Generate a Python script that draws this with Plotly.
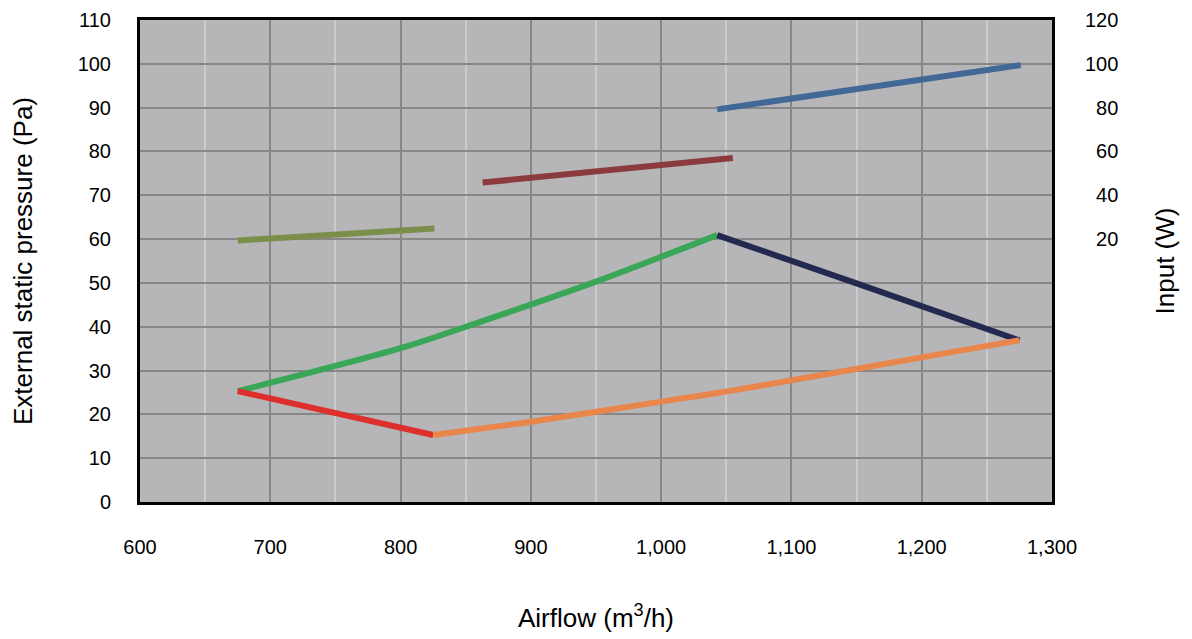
import plotly.graph_objects as go

# pressure curves (left axis, Pa)
green_x = [675, 800, 860, 950, 1043]
green_y = [25.3, 35.1, 41.0, 50.3, 60.9]
red_x = [675, 825]
red_y = [25.3, 15.3]
orange_x = [825, 900, 1000, 1060, 1200, 1275]
orange_y = [15.3, 18.3, 22.9, 25.7, 33.0, 36.9]
navy_x = [1043, 1150, 1275]
navy_y = [60.9, 49.9, 36.9]

# input power curves (right axis, W)
olive_x = [675, 826]
olive_w = [19.4, 24.8]
maroon_x = [863, 1055]
maroon_w = [45.8, 57.0]
blue_x = [1043, 1276]
blue_w = [79.2, 99.4]

right_ticks = [20, 40, 60, 80, 100, 120]
right_text = ["\u200720", "\u200740", "\u200760", "\u200780", "100", "120"]

fig = go.Figure()

def add_line(x, y, color, axis="y"):
    fig.add_trace(go.Scatter(
        x=x, y=y, yaxis=axis, mode="lines",
        line=dict(color=color, width=6, shape="spline", smoothing=0.8),
        showlegend=False, hoverinfo="x+y"
    ))

add_line(olive_x, olive_w, "#7b8f4a", "y2")
add_line(maroon_x, maroon_w, "#8b3b3d", "y2")
add_line(blue_x, blue_w, "#426895", "y2")
add_line(green_x, green_y, "#3aa657")
add_line(navy_x, navy_y, "#23294f")
add_line(red_x, red_y, "#dd302c")
add_line(orange_x, orange_y, "#e8864c")

family = "Liberation Sans, Arial, sans-serif"
tickfont = dict(family=family, size=20, color="black")
titlefont = dict(family=family, size=26, color="black")

# page body has an 8px margin, so the figure is 8px smaller each way
fig.update_layout(
    width=1184, height=631,
    margin=dict(l=132, r=140, t=12, b=137, autoexpand=False),
    paper_bgcolor="white",
    plot_bgcolor="#b6b6b8",
    font=dict(family=family, size=20, color="black"),
    xaxis=dict(
        range=[600, 1300], dtick=100, tick0=600, tickformat=",d",
        showgrid=True, gridcolor="#878787", gridwidth=2,
        minor=dict(dtick=50, showgrid=True, gridcolor="#cbcbcd", gridwidth=2),
        showline=True, linecolor="black", linewidth=3, mirror=True,
        ticks="outside", ticklen=25, tickcolor="rgba(0,0,0,0)",
        zeroline=False, automargin=False, tickfont=tickfont,
        title=dict(text="Airflow (m<sup>3</sup>/h)", font=titlefont, standoff=52),
    ),
    yaxis=dict(
        range=[0, 110], dtick=10,
        showgrid=True, gridcolor="#878787", gridwidth=2,
        showline=True, linecolor="black", linewidth=3, mirror=True,
        ticks="outside", ticklen=22, tickcolor="rgba(0,0,0,0)",
        zeroline=False, automargin=False, tickfont=tickfont,
        title=dict(text="External static pressure (Pa)", font=titlefont, standoff=43),
    ),
    yaxis2=dict(
        overlaying="y", side="right", range=[-100, 120],
        tickvals=right_ticks, ticktext=right_text,
        showgrid=False, zeroline=False, showline=False,
        ticks="outside", ticklen=28, tickcolor="rgba(0,0,0,0)",
        automargin=False, tickfont=tickfont,
        title=dict(text="Input (W)", font=titlefont, standoff=38),
    ),
)

fig.write_html("out.html")
